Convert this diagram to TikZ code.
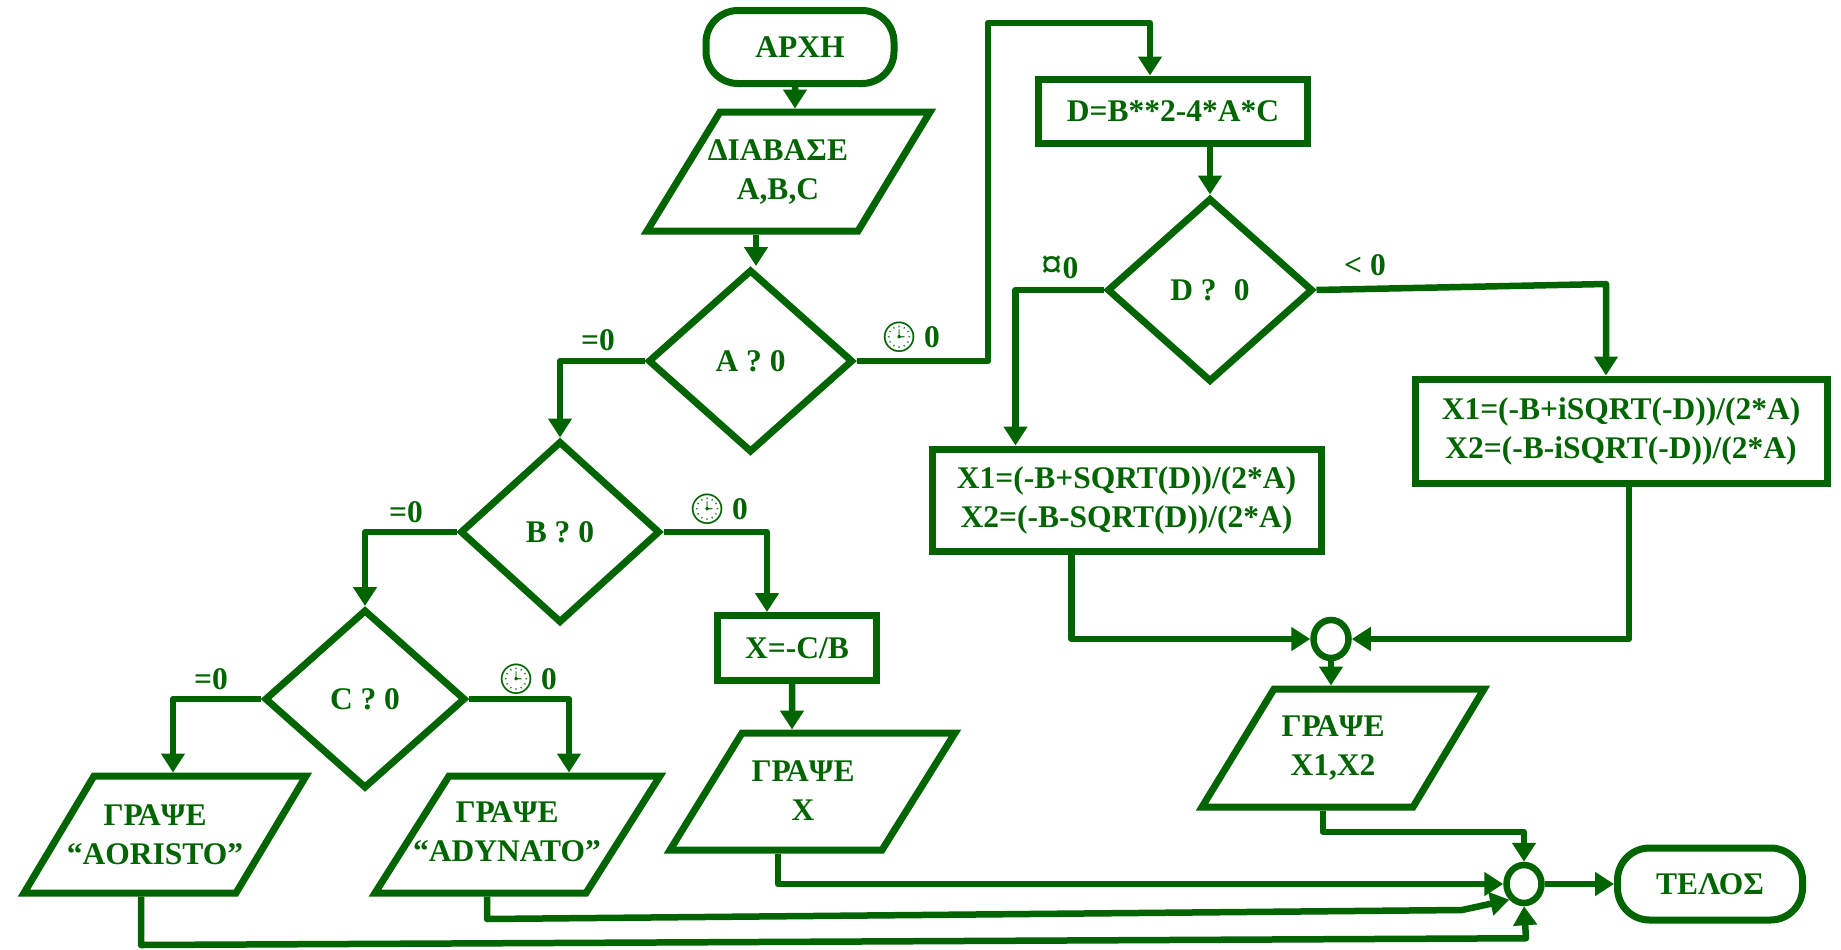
\documentclass[tikz,border=0pt]{standalone}
\usepackage{fontspec}
\setmainfont{Liberation Serif}
\newfontfamily\emo{Noto Emoji}
\usetikzlibrary{shapes.geometric,arrows.meta,calc}
\definecolor{fc}{RGB}{0,100,0}
\newcommand{\clk}{{\emo\fontsize{30bp}{30bp}\selectfont 🕒}\hspace{6bp}}
\newcommand{\cur}{{\fontsize{42bp}{42bp}\selectfont ¤}}
\begin{document}
\begin{tikzpicture}[x=1bp,y=-1bp,
  txt/.style={font=\fontsize{31.5bp}{39bp}\selectfont\bfseries, text=fc, align=center, inner sep=0pt},
  shp/.style={txt, draw=fc, line width=7bp},
  proc/.style={shp, rectangle},
  dec/.style={shp, diamond},
  term/.style={shp, rectangle, rounded corners=32bp},
  junc/.style={draw=fc, line width=6.5bp, ellipse, inner sep=0pt, minimum width=35bp, minimum height=38bp},
  para/.style={draw=fc, line width=7bp},
  conn/.style={draw=fc, line width=6.5bp, line join=round, -{Triangle[length=19bp,width=23bp]}},
  lbl/.style={txt}]
\useasboundingbox (0,0) rectangle (1841,949);

% ---- nodes ----
\node[term, minimum width=188bp, minimum height=73bp] (start) at (800,47) {ΑΡΧΗ};

\draw[para] (720,112) -- (930,112) -- (858,231) -- (647,231) -- cycle;
\node[txt] (inp) at (778,172) {ΔΙΑΒΑΣΕ\\A,B,C};
\coordinate (inpT) at (795,108.5);
\coordinate (inpB) at (756,234.5);

\node[dec, minimum width=205bp, minimum height=183bp] (A) at (750.5,361) {A ? 0};
\node[dec, minimum width=200bp, minimum height=182bp] (B) at (560,532) {B ? 0};
\node[dec, minimum width=201bp, minimum height=179bp] (C) at (365,699) {C ? 0};
\node[dec, minimum width=206bp, minimum height=184bp] (Dd) at (1210,290) {D ?\hspace{0.55em}0};

\node[proc, minimum width=269bp, minimum height=64bp] (Db) at (1173,111) {D=B**2-4*A*C};
\node[proc, minimum width=389bp, minimum height=102bp] (L1) at (1126.5,500) {X1=(-B+SQRT(D))/(2*A)\\X2=(-B-SQRT(D))/(2*A)};
\node[proc, minimum width=412bp, minimum height=104bp] (R1) at (1621,431) {X1=(-B+iSQRT(-D))/(2*A)\\X2=(-B-iSQRT(-D))/(2*A)};
\node[proc, minimum width=159bp, minimum height=65bp] (X) at (797,648) {X=-C/B};

\node[junc] (M1) at (1331,639) {};
\node[junc] (M2) at (1524,884) {};
\node[term, minimum width=185bp, minimum height=72bp] (T) at (1710,884) {ΤΕΛΟΣ};

% output parallelograms
\draw[para] (1274,689) -- (1484,689) -- (1413,807) -- (1202,807) -- cycle;
\node[txt] (out4) at (1333,748) {ΓΡΑΨΕ\\X1,X2};
\coordinate (p4T) at (1330,685.5);
\coordinate (p4B) at (1323,810.5);

\draw[para] (742,733) -- (955,733) -- (882,850) -- (670,850) -- cycle;
\node[txt] (out3) at (803,791) {ΓΡΑΨΕ\\X};
\coordinate (p3T) at (792,729.5);
\coordinate (p3B) at (778,853.5);

\draw[para] (94,776) -- (306,776) -- (236,893) -- (24,893) -- cycle;
\node[txt] (out1) at (155,835) {ΓΡΑΨΕ\\“AORISTO”};
\coordinate (p1T) at (173,772.5);
\coordinate (p1B) at (141,896.5);

\draw[para] (449,776) -- (660,776) -- (586,893) -- (375,893) -- cycle;
\node[txt] (out2) at (507,832) {ΓΡΑΨΕ\\“ADYNATO”};
\coordinate (p2T) at (569,772.5);
\coordinate (p2B) at (487,896.5);

\coordinate (aTop) at (1150,23);

% ---- labels ----
\node[lbl] (lA0) at (598,340) {=0};
\node[lbl] (lA1) at (910,337) {\clk 0};
\node[lbl] (lB0) at (406,512) {=0};
\node[lbl] (lB1) at (718,509) {\clk 0};
\node[lbl] (lC0) at (211,679) {=0};
\node[lbl] (lC1) at (527,679) {\clk 0};
\node[lbl] (lD0) at (1060,267) {\cur0};
\node[lbl] (lD1) at (1365,265) {< 0};

% ---- connectors ----
\draw[conn] ([xshift=-5bp]start.south) -- (inpT);
\draw[conn] (inpB) -- (inpB |- A.north);
\draw[conn] (A.west) -| (B.north);
\draw[conn] (A.east) -- (988,361) |- (aTop) -- (aTop |- Db.north);
\draw[conn] (Dd.north |- Db.south) -- (Dd.north);
\draw[conn] (Dd.west) -| ([xshift=-111bp]L1.north);
\draw[conn] (Dd.east) -- (1606,284) -- ([xshift=-15bp]R1.north);
\draw[conn] ([xshift=-55bp]L1.south) |- (M1.west);
\draw[conn] ([xshift=8bp]R1.south) |- (M1.east);
\draw[conn] (M1.south) -- (M1.south |- p4T);
\draw[conn] (p4B) -- (1323,832) -| (M2.north);
\draw[conn] (B.west) -| (C.north);
\draw[conn] (B.east) -| ([xshift=-30bp]X.north);
\draw[conn] ([xshift=-5bp]X.south) -- (p3T);
\draw[conn] (p3B) |- (M2.west);
\draw[conn] (C.west) -| (p1T);
\draw[conn] (C.east) -| (p2T);
\draw[conn] (p2B) -- (487,919) -- (1462,910) -- (M2.south west);
\draw[conn] (p1B) -- (141,945) -- ($(M2.south)+(2,32)$) -- (M2.south);
\draw[conn] (M2.east) -- (T.west);
\end{tikzpicture}
\end{document}
